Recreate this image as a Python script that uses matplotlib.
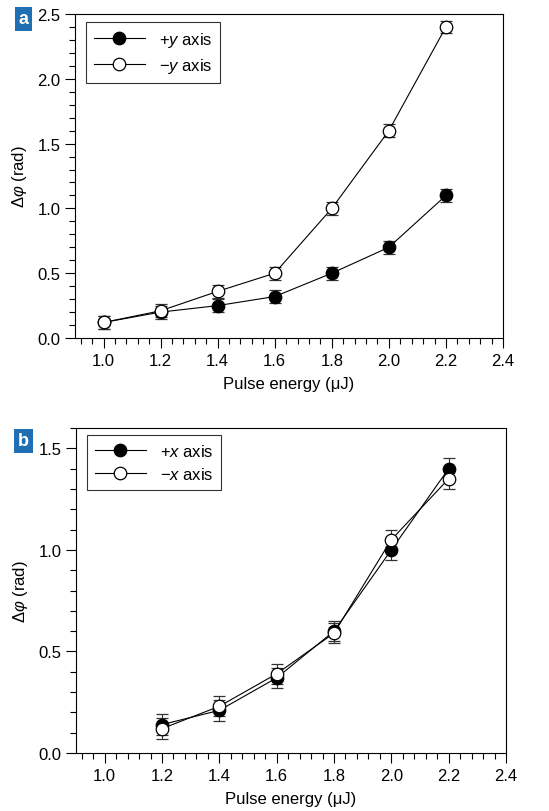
import matplotlib.pyplot as plt
from matplotlib.ticker import MultipleLocator

plt.rcParams['font.family'] = ['Liberation Sans Narrow', 'Liberation Sans', 'DejaVu Sans']
plt.rcParams['mathtext.fontset'] = 'custom'
plt.rcParams['mathtext.rm'] = 'Liberation Sans'
plt.rcParams['mathtext.it'] = 'Liberation Sans:italic'

# panel a
energy_a = [1.0, 1.2, 1.4, 1.6, 1.8, 2.0, 2.2]
plus_y = [0.12, 0.20, 0.25, 0.32, 0.50, 0.70, 1.10]
plus_y_err = [0.05, 0.05, 0.05, 0.05, 0.05, 0.05, 0.05]
minus_y = [0.12, 0.21, 0.36, 0.50, 1.00, 1.60, 2.40]
minus_y_err = [0.05, 0.05, 0.05, 0.05, 0.05, 0.05, 0.05]

# panel b
energy_b = [1.2, 1.4, 1.6, 1.8, 2.0, 2.2]
plus_x = [0.14, 0.21, 0.37, 0.60, 1.00, 1.40]
plus_x_err = [0.05, 0.05, 0.05, 0.05, 0.05, 0.05]
minus_x = [0.12, 0.23, 0.39, 0.59, 1.05, 1.35]
minus_x_err = [0.05, 0.05, 0.05, 0.05, 0.05, 0.05]

xticks = [1.0, 1.2, 1.4, 1.6, 1.8, 2.0, 2.2, 2.4]

fig = plt.figure(figsize=(5.49, 8.12), dpi=100)
ax_a = fig.add_axes([0.1366, 0.5825, 0.7796, 0.399])
ax_b = fig.add_axes([0.1384, 0.0714, 0.7833, 0.4003])


def draw(ax, x, y1, e1, y2, e2, lab1, lab2, ymax, yticks, leg_top):
    kw = dict(color='black', lw=0.8, ms=9, capsize=4, elinewidth=0.8,
              ecolor='#333333', capthick=1.2, markeredgewidth=0.9)
    c1 = ax.errorbar(x, y1, yerr=e1, marker='o', mfc='black', mec='black', **kw)
    c2 = ax.errorbar(x, y2, yerr=e2, marker='o', mfc='white', mec='black', **kw)
    ax.set_xlim(0.9, 2.4)
    ax.set_ylim(0, ymax)
    ax.set_xticks(xticks)
    ax.set_xticklabels([f'{t:.1f}' for t in xticks])
    ax.set_yticks(yticks)
    ax.set_yticklabels([f'{t:.1f}' for t in yticks])
    ax.xaxis.set_minor_locator(MultipleLocator(0.04))
    ax.yaxis.set_minor_locator(MultipleLocator(0.1))
    ax.tick_params(which='major', direction='out', length=7, width=0.8, labelsize=12)
    ax.tick_params(which='minor', direction='out', length=4.5, width=0.8)
    for s in ax.spines.values():
        s.set_linewidth(0.8)
    ax.set_xlabel('Pulse energy (\u03bcJ)', fontsize=12, labelpad=6)
    ax.set_ylabel('\u0394$\\it{\u03c6}$ (rad)', fontsize=12, labelpad=6)
    leg = ax.legend([c1[0], c2[0]], [lab1, lab2], loc='upper left',
                    bbox_to_anchor=(0.026, leg_top), fontsize=12,
                    frameon=True, fancybox=False, edgecolor='black', handlelength=3.1,
                    handletextpad=0.8, borderpad=0.45, labelspacing=0.45,
                    borderaxespad=0)
    leg.get_frame().set_linewidth(0.8)


draw(ax_a, energy_a, plus_y, plus_y_err, minus_y, minus_y_err,
     '+$y$ axis', '\u2212$y$ axis', 2.5, [0.0, 0.5, 1.0, 1.5, 2.0, 2.5], 0.975)
draw(ax_b, energy_b, plus_x, plus_x_err, minus_x, minus_x_err,
     '+$x$ axis', '\u2212$x$ axis', 1.6, [0.0, 0.5, 1.0, 1.5], 0.978)

for lab, y in [('a', 1 - 20 / 812), ('b', 1 - 442 / 812)]:
    fig.text(23.5 / 549, y, lab, color='white', fontsize=13, fontweight='bold',
             ha='center', va='center', family=['Liberation Sans', 'DejaVu Sans'],
             bbox=dict(boxstyle='square,pad=0.22', fc='#1f6fb2', ec='none'))

fig.savefig('out.png', dpi=100)
